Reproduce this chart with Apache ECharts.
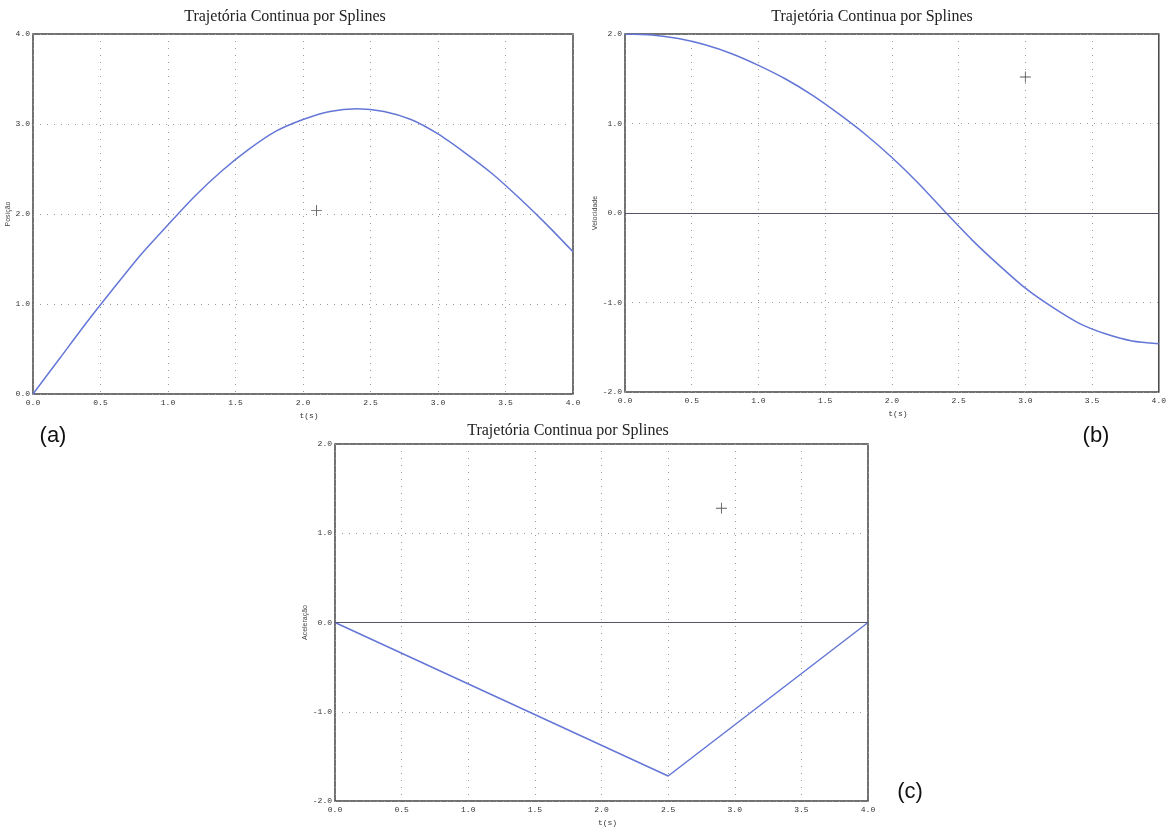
<!DOCTYPE html>
<html>
<head>
<meta charset="utf-8">
<script src="https://cdn.jsdelivr.net/npm/echarts@6/dist/echarts.min.js"></script>
<style>
  html, body { margin: 0; padding: 0; background: #fff; }
  #chart { width: 1169px; height: 828px; }
</style>
</head>
<body>
<div id="chart"></div>
<script>
// time samples (s)
const tSteps = [0, 0.2, 0.4, 0.6, 0.8, 1.0, 1.2, 1.4, 1.6, 1.8, 2.0, 2.2, 2.4, 2.6, 2.8, 3.0, 3.2, 3.4, 3.6, 3.8, 4.0];
const posicao = [0, 0.4, 0.8, 1.18, 1.55, 1.88, 2.2, 2.48, 2.72, 2.92, 3.05, 3.14, 3.17, 3.14, 3.05, 2.89, 2.68, 2.45, 2.18, 1.89, 1.58];
const velocidade = [2.0, 1.99, 1.95, 1.88, 1.78, 1.65, 1.5, 1.32, 1.11, 0.88, 0.62, 0.33, 0.01, -0.3, -0.58, -0.84, -1.05, -1.23, -1.35, -1.43, -1.46];
// panel (c) is piecewise linear
const tAcel = [0, 2.5, 4.0];
const aceleracao = [0, -1.72, 0];
// cursor crosses
const cursorA = [2.1, 2.04];
const cursorB = [3.0, 1.52];
const cursorC = [2.9, 1.28];

const titleText = 'Trajetória Continua por Splines';
const blue = '#6477d6';
const plus = 'path://M4.6,0h0.8v10h-0.8z M0,4.6h10v0.8h-10z';

const chart = echarts.init(document.getElementById('chart'));

const grids = [
  { left: 33, top: 34, width: 540, height: 360 },
  { left: 625, top: 34, width: 534, height: 358 },
  { left: 335, top: 444, width: 533, height: 359 }
];

const xAxisFor = (i) => ({
  type: 'value', gridIndex: i, min: 0, max: 4, interval: 0.5,
  name: 't(s)', nameLocation: 'middle', nameGap: 18,
  nameTextStyle: { fontSize: 8, color: '#333', fontFamily: 'Liberation Mono', padding: [0, 0, 0, 12] },
  axisLine: { show: false }, axisTick: { show: false },
  axisLabel: { fontSize: 8, color: '#333', fontFamily: 'Liberation Mono', margin: 5,
    formatter: v => v.toFixed(1) },
  splitLine: { show: true, lineStyle: { color: '#9a9a9a', type: [1, 6], width: 1 } }
});

const yAxisFor = (i, min, max, name) => ({
  type: 'value', gridIndex: i, min: min, max: max, interval: 1,
  name: name, nameLocation: 'middle', nameGap: 20, nameRotate: 90,
  nameTextStyle: { fontSize: 7, color: '#444', fontFamily: 'Liberation Sans' },
  axisLine: { show: false }, axisTick: { show: false },
  axisLabel: { fontSize: 8, color: '#333', fontFamily: 'Liberation Mono', margin: 3,
    formatter: v => v.toFixed(1) },
  splitLine: { show: true, lineStyle: { color: '#9a9a9a', type: [1, 6], width: 1 } }
});

const zeroLine = {
  silent: true, symbol: 'none', label: { show: false },
  lineStyle: { color: '#5a5266', type: 'solid', width: 1.2 },
  data: [{ yAxis: 0 }]
};

const option = {
  backgroundColor: '#fff',
  animation: false,
  grid: grids.map(g => Object.assign({ show: true, borderColor: '#444', borderWidth: 1.5, backgroundColor: '#fff' }, g)),
  xAxis: [xAxisFor(0), xAxisFor(1), xAxisFor(2)],
  yAxis: [
    yAxisFor(0, 0, 4, 'Posição'),
    yAxisFor(1, -2, 2, 'Velocidade'),
    yAxisFor(2, -2, 2, 'Aceleração')
  ],
  series: [
    {
      type: 'line', xAxisIndex: 0, yAxisIndex: 0, smooth: 0.25, symbol: 'none',
      lineStyle: { color: blue, width: 1.5 },
      data: tSteps.map((t, k) => [t, posicao[k]])
    },
    {
      type: 'line', xAxisIndex: 1, yAxisIndex: 1, smooth: 0.25, symbol: 'none',
      lineStyle: { color: blue, width: 1.5 },
      markLine: zeroLine,
      data: tSteps.map((t, k) => [t, velocidade[k]])
    },
    {
      type: 'line', xAxisIndex: 2, yAxisIndex: 2, symbol: 'none',
      lineStyle: { color: blue, width: 1.5 },
      markLine: zeroLine,
      data: tAcel.map((t, k) => [t, aceleracao[k]])
    },
    { type: 'scatter', xAxisIndex: 0, yAxisIndex: 0, symbol: plus, symbolSize: 11,
      itemStyle: { color: '#333' }, data: [cursorA] },
    { type: 'scatter', xAxisIndex: 1, yAxisIndex: 1, symbol: plus, symbolSize: 11,
      itemStyle: { color: '#333' }, data: [cursorB] },
    { type: 'scatter', xAxisIndex: 2, yAxisIndex: 2, symbol: plus, symbolSize: 11,
      itemStyle: { color: '#333' }, data: [cursorC] }
  ],
  graphic: [
    { type: 'text', x: 285, y: 17, style: { text: titleText, font: '16px "Liberation Serif"', fill: '#222', align: 'center', verticalAlign: 'middle' } },
    { type: 'text', x: 872, y: 17, style: { text: titleText, font: '16px "Liberation Serif"', fill: '#222', align: 'center', verticalAlign: 'middle' } },
    { type: 'text', x: 568, y: 431, style: { text: titleText, font: '16px "Liberation Serif"', fill: '#222', align: 'center', verticalAlign: 'middle' } },
    { type: 'text', x: 53, y: 436, style: { text: '(a)', font: '22px "Liberation Sans"', fill: '#111', align: 'center', verticalAlign: 'middle' } },
    { type: 'text', x: 1096, y: 436, style: { text: '(b)', font: '22px "Liberation Sans"', fill: '#111', align: 'center', verticalAlign: 'middle' } },
    { type: 'text', x: 910, y: 792, style: { text: '(c)', font: '22px "Liberation Sans"', fill: '#111', align: 'center', verticalAlign: 'middle' } }
  ]
};

chart.setOption(option);
</script>
</body>
</html>
